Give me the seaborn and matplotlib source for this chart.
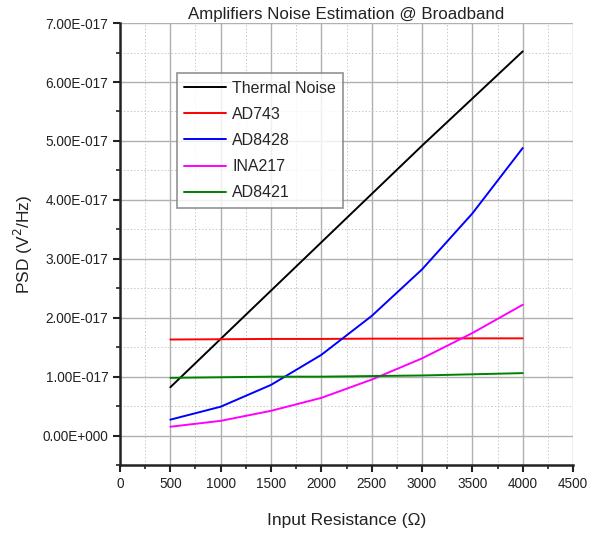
import numpy as np
import pandas as pd
import matplotlib
matplotlib.use("Agg")
import matplotlib.pyplot as plt
import seaborn as sns
from matplotlib.ticker import FuncFormatter, MultipleLocator

resistance = [500, 1000, 1500, 2000, 2500, 3000, 3500, 4000]
thermal = [0.82, 1.64, 2.46, 3.28, 4.10, 4.92, 5.72, 6.52]
ad743 = [1.63, 1.635, 1.64, 1.64, 1.645, 1.645, 1.65, 1.65]
ad8428 = [0.27, 0.49, 0.86, 1.37, 2.03, 2.82, 3.77, 4.88]
ina217 = [0.15, 0.25, 0.42, 0.64, 0.95, 1.31, 1.74, 2.22]
ad8421 = [0.98, 0.99, 1.0, 1.0, 1.01, 1.02, 1.04, 1.06]
scale = 1e-17

series = {"Thermal Noise": thermal, "AD743": ad743, "AD8428": ad8428,
          "INA217": ina217, "AD8421": ad8421}
colors = {"Thermal Noise": "#000000", "AD743": "#ff0000", "AD8428": "#0000ff",
          "INA217": "#ff00ff", "AD8421": "#008000"}

rows = []
for name, vals in series.items():
    for r, v in zip(resistance, vals):
        rows.append({"R": r, "PSD": v * scale, "Series": name})
df = pd.DataFrame(rows)

sns.set_style("white")
plt.rcParams['font.family'] = ['Liberation Sans', 'DejaVu Sans']

fig = plt.figure(figsize=(6.09, 5.37), dpi=100)
ax = fig.add_axes([0.197, 0.134, 0.744, 0.823])

sns.lineplot(data=df, x="R", y="PSD", hue="Series", palette=colors,
             hue_order=list(series.keys()), ax=ax, linewidth=1.4, legend=True)

ax.set_xlim(0, 4500)
ax.set_ylim(-0.5e-17, 7e-17)
ax.xaxis.set_major_locator(MultipleLocator(500))
ax.xaxis.set_minor_locator(MultipleLocator(250))
ax.yaxis.set_major_locator(MultipleLocator(1e-17))
ax.yaxis.set_minor_locator(MultipleLocator(0.5e-17))

def fmt(v, pos):
    if abs(v) < 1e-30:
        return "0.00E+000"
    s = "%.2E" % v
    mant, exp = s.split("E")
    e = int(exp)
    sign = "-" if e < 0 else "+"
    return "%sE%s%03d" % (mant, sign, abs(e))

ax.yaxis.set_major_formatter(FuncFormatter(fmt))
ax.yaxis.get_offset_text().set_visible(False)
ax.grid(True, which="major", color="#b0b0b0", linewidth=1.0)
ax.grid(True, which="minor", color="#c8c8c8", linewidth=0.7, linestyle=(0, (1.5, 2)))
ax.set_axisbelow(True)

for s in ["top", "right"]:
    ax.spines[s].set_visible(False)
for s in ["left", "bottom"]:
    ax.spines[s].set_linewidth(1.8)
    ax.spines[s].set_color("#222222")

ax.tick_params(axis="both", which="major", direction="out", length=5, width=1.5,
               labelsize=9.8, colors="#222222", left=True, bottom=True)
ax.tick_params(axis="both", which="minor", direction="out", length=3, width=1.2,
               left=True, bottom=True, colors="#222222")

ax.set_title("Amplifiers Noise Estimation @ Broadband", fontsize=12.2, pad=3, color="#222222")
ax.set_xlabel("Input Resistance (\u03a9)", fontsize=12.5, labelpad=16, color="#222222")
ax.set_ylabel("PSD (V$^2$/Hz)", fontsize=12.5, color="#222222")
ax.yaxis.set_label_coords(-0.188, 0.5)

leg = ax.legend(loc="upper left", bbox_to_anchor=(0.126, 0.886), fontsize=11.5,
                frameon=True, fancybox=False, handlelength=2.6, borderpad=0.45,
                labelspacing=0.7, handletextpad=0.4, borderaxespad=0)
leg.get_frame().set_edgecolor("#777777")
leg.get_frame().set_linewidth(1.2)

fig.savefig("out.png", dpi=100)
